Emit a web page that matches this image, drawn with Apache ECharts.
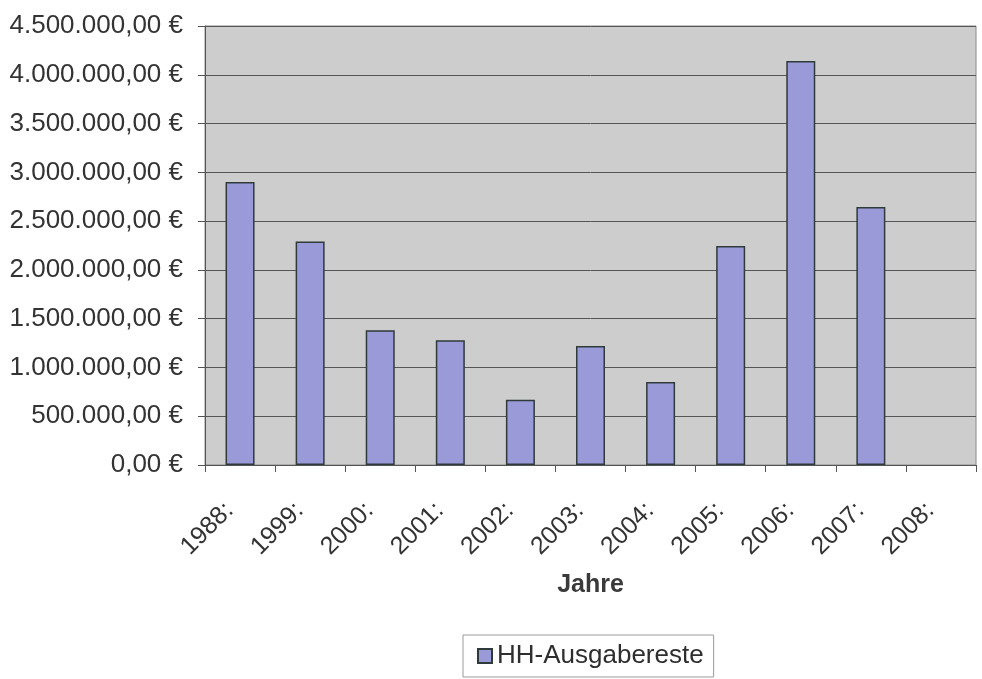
<!DOCTYPE html>
<html>
<head>
<meta charset="utf-8">
<script src="https://cdn.jsdelivr.net/npm/echarts@6/dist/echarts.min.js"></script>
<style>
  html, body { margin: 0; padding: 0; background: #fff; }
  #chart { width: 982px; height: 679px; }
</style>
</head>
<body>
<div id="chart"></div>
<script>
// Jahre und Haushaltsausgabereste (Euro)
const years = ['1988:', '1999:', '2000:', '2001:', '2002:', '2003:', '2004:', '2005:', '2006:', '2007:', '2008:']
const ausgabereste = [2900000, 2290000, 1380000, 1280000, 670000, 1220000, 850000, 2245000, 4140000, 2645000, null]

function euro(v) {
  const parts = v.toFixed(2).split('.')
  const int = parts[0].replace(/\B(?=(\d{3})+(?!\d))/g, '.')
  return int + ',' + parts[1] + ' €'
}

const chart = echarts.init(document.getElementById('chart'))
chart.setOption({
  animation: false,
  textStyle: { fontFamily: 'Liberation Sans, Arial, sans-serif' },
  grid: {
    left: 205,
    right: 6,
    top: 26,
    bottom: 214,
    show: true,
    backgroundColor: '#cdcdcd',
    borderColor: '#8a8a8a',
    borderWidth: 1
  },
  legend: {
    data: ['HH-Ausgabereste'],
    bottom: 2,
    left: 463,
    icon: 'rect',
    itemWidth: 14,
    itemHeight: 14,
    itemGap: 6,
    padding: [8, 10, 8, 14],
    borderColor: '#9a9a9a',
    borderWidth: 1,
    textStyle: { fontSize: 26, color: '#2e2e2e' }
  },
  xAxis: {
    type: 'category',
    data: years,
    name: 'Jahre',
    nameLocation: 'middle',
    nameGap: 108,
    nameTextStyle: { fontSize: 25, fontWeight: 'bold', color: '#3a3a3a' },
    axisLine: { lineStyle: { color: '#555', width: 1 } },
    axisTick: { show: true, length: 7, lineStyle: { color: '#555' } },
    axisLabel: { rotate: 45, margin: 31, padding: [0, 15, 0, 0], fontSize: 25, color: '#333' }
  },
  yAxis: {
    type: 'value',
    min: 0,
    max: 4500000,
    interval: 500000,
    axisLine: { show: true, lineStyle: { color: '#555' } },
    axisTick: { show: true, length: 7, lineStyle: { color: '#555' } },
    axisLabel: { fontSize: 26, color: '#333', margin: 22, formatter: euro },
    splitLine: { lineStyle: { color: '#555', width: 1 } }
  },
  series: [{
    name: 'HH-Ausgabereste',
    type: 'bar',
    data: ausgabereste,
    barWidth: 29,
    itemStyle: {
      color: '#9a9ad8',
      borderColor: '#2f3a3a',
      borderWidth: 1.5
    }
  }]
})
</script>
</body>
</html>
